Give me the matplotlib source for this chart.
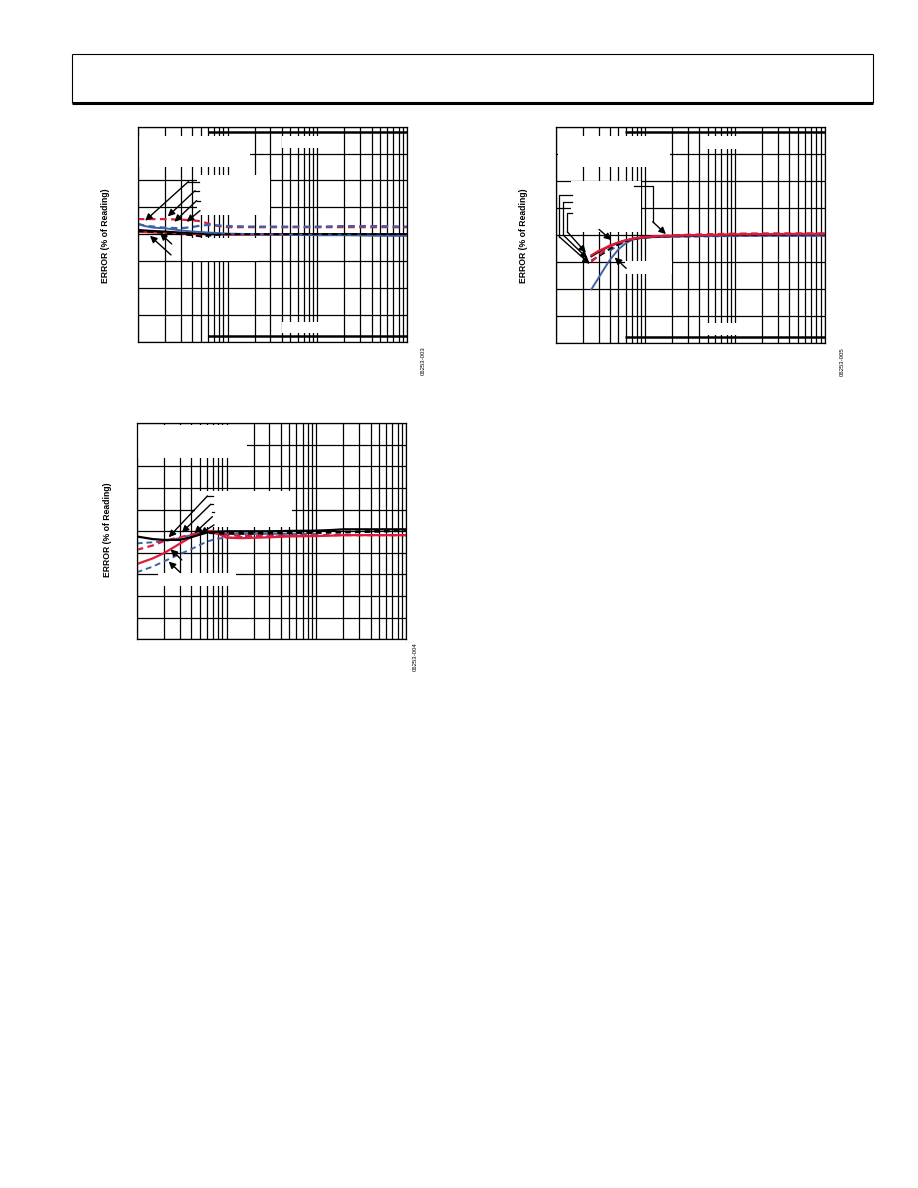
import numpy as np
import matplotlib
matplotlib.use("Agg")
import matplotlib.pyplot as plt
from matplotlib.patches import Rectangle
from matplotlib.lines import Line2D
from matplotlib.ticker import LogLocator, NullFormatter

plt.rcParams['font.family'] = ['Liberation Sans', 'DejaVu Sans']

RED = '#E01A3C'
BLUE = '#3D62A6'

# ---- plot 1 (top left) ----
p1_x = [1, 1.2, 1.5, 2, 3, 4, 5, 6, 8, 10, 20, 50, 100, 200, 500, 1000]
p1_red_dash = [0.28, 0.28, 0.28, 0.28, 0.27, 0.26, 0.24, 0.2, 0.15, 0.13, 0.13, 0.13, 0.13, 0.13, 0.13, 0.13]
p1_blue_dash = [0.19, 0.16, 0.14, 0.12, 0.11, 0.13, 0.16, 0.17, 0.16, 0.15, 0.14, 0.14, 0.14, 0.15, 0.15, 0.14]
p1_blue = [0.19, 0.15, 0.12, 0.11, 0.07, 0.05, 0.04, 0.03, 0.02, 0.01, 0.0, -0.01, -0.02, -0.02, -0.03, -0.03]
p1_black = [0.08, 0.07, 0.06, 0.05, 0.03, 0.02, 0.01, 0.0, 0.0, 0.0, 0.0, 0.0, 0.0, 0.0, 0.0, 0.0]
p1_red = [0.04, 0.04, 0.03, 0.03, 0.02, 0.01, 0.0, 0.0, 0.0, -0.01, -0.01, -0.01, -0.01, -0.01, -0.02, -0.02]
p1_black_dash = [0.06, 0.05, 0.04, 0.02, 0.0, -0.02, -0.04, -0.03, -0.01, 0.0, 0.0, 0.0, 0.0, 0.0, 0.0, 0.0]

# ---- plot 2 (top right) ----
p2_x = [2.5, 3, 3.5, 4, 5, 6, 7, 8, 10, 15, 20, 30, 50, 100, 200, 500, 1000]
p2_red = [-0.38, -0.30, -0.25, -0.20, -0.14, -0.10, -0.08, -0.06, -0.04, -0.025, -0.018, -0.01, -0.006, 0.006, 0.012, 0.016, 0.018]
p2_red_dash = [-0.50, -0.38, -0.29, -0.22, -0.15, -0.11, -0.08, -0.06, -0.04, -0.02, -0.012, 0.0, 0.01, 0.02, 0.025, 0.025, 0.025]
p2_blue = [-1.01, -0.80, -0.62, -0.47, -0.27, -0.16, -0.10, -0.07, -0.05, -0.04, -0.037, -0.03, -0.025, -0.02, -0.018, -0.018, -0.018]
p2_black = [-0.40, -0.32, -0.26, -0.21, -0.15, -0.11, -0.085, -0.065, -0.045, -0.03, -0.02, -0.012, -0.005, 0.0, 0.005, 0.008, 0.01]
p2_black_dash = [-0.48, -0.40, -0.33, -0.26, -0.18, -0.12, -0.09, -0.07, -0.05, -0.035, -0.025, -0.018, -0.012, -0.006, 0.0, 0.005, 0.008]
p2_bd_x = [4, 5, 6, 7, 8, 10, 15, 20, 30, 50, 100, 200, 500, 1000]
p2_blue_dash = [-0.30, -0.19, -0.13, -0.09, -0.07, -0.05, -0.04, -0.037, -0.035, -0.03, -0.025, -0.02, -0.02, -0.02]

# ---- plot 3 (bottom left) ----
p3_x = [1, 1.5, 2, 3, 4, 5, 6, 7, 8, 10, 15, 20, 30, 50, 100, 150, 200, 500, 1000]
p3_black = [-0.12, -0.18, -0.2, -0.2, -0.14, -0.08, -0.03, -0.015, -0.008, 0.0, 0.0, 0.0, 0.0, 0.008, 0.015, 0.03, 0.046, 0.046, 0.046]
p3_red_dash = [-0.43, -0.33, -0.23, -0.14, -0.08, -0.03, -0.01, -0.03, -0.06, -0.09, -0.11, -0.11, -0.10, -0.10, -0.09, -0.09, -0.09, -0.09, -0.09]
p3_red = [-0.76, -0.63, -0.51, -0.29, -0.14, -0.05, 0.0, 0.01, -0.05, -0.15, -0.16, -0.15, -0.14, -0.12, -0.11, -0.10, -0.09, -0.09, -0.09]
p3_bd_x = [1, 1.5, 2, 3, 4, 5, 6, 7, 8, 10, 15, 20, 30, 50, 100]
p3_blue_dash_lo = [-0.95, -0.82, -0.70, -0.53, -0.42, -0.32, -0.24, -0.20, -0.17, -0.15, -0.13, -0.12, -0.12, -0.11, -0.11]
p3_blue_dash_hi = [-0.28, -0.255, -0.23, -0.16, -0.09, -0.03, -0.01, -0.03, -0.05, -0.06, -0.06, -0.06, -0.06, -0.06, -0.06]
p3_kd_x = [5, 6, 8, 10, 20, 50, 100, 200, 500, 1000]
p3_black_dash = [-0.05, -0.03, -0.04, -0.05, -0.05, -0.04, -0.03, -0.02, 0.0, 0.02]

ids = ['06253-003', '06253-005', '06253-004']
ylabel = 'ERROR (% of Reading)'

fig = plt.figure(figsize=(9.18, 11.88), dpi=100)


def frame(rect, ylim, nrows):
    ax = fig.add_axes(rect)
    ax.set_xscale('log')
    ax.set_xlim(1, 1000)
    ax.set_ylim(*ylim)
    ax.xaxis.set_major_locator(LogLocator(base=10))
    ax.xaxis.set_minor_locator(LogLocator(base=10, subs=range(2, 10)))
    ax.xaxis.set_minor_formatter(NullFormatter())
    ax.set_yticks(np.linspace(ylim[0], ylim[1], nrows + 1))
    ax.grid(which='both', color='k', lw=0.9)
    ax.set_axisbelow(True)
    ax.tick_params(which='both', length=0, labelbottom=False, labelleft=False)
    for s in ax.spines.values():
        s.set_linewidth(0.9)
        s.set_zorder(6)
    return ax


def mask(ax, boxes):
    # white backgrounds of the (blank) label boxes cut the grid
    for x0, x1, y0, y1 in boxes:
        ax.add_patch(Rectangle((x0, y0), x1 - x0, y1 - y0, fc='white', ec='none', zorder=2))


def arrows(ax, pairs):
    for tip, tail in pairs:
        ax.annotate('', xy=tip, xytext=tail, zorder=5,
                    arrowprops=dict(arrowstyle='-|>', color='k', lw=1.0,
                                    mutation_scale=10, shrinkA=0, shrinkB=0))


def leaders(ax, paths):
    for path in paths:
        xs, ys = zip(*path)
        ax.plot(xs, ys, color='k', lw=0.9, zorder=5)


def limits(ax, x0, y):
    ax.plot([x0, 1000], [y, y], color='k', lw=1.8, zorder=3, solid_capstyle='butt')
    ax.plot([x0, 1000], [-y, -y], color='k', lw=1.8, zorder=3, solid_capstyle='butt')


# plot 1
ax1 = frame([0.150, 0.7124, 0.2937, 0.181], (-2, 2), 8)
mask(ax1, [(1.03, 17.8, 1.256, 1.833), (4.53, 29.6, 0.357, 1.10),
           (3.3, 22, -0.50, -0.07), (40, 194, 1.597, 1.826), (40, 194, -1.845, -1.628)])
limits(ax1, 6.1, 1.9)
ax1.plot(p1_x, p1_red, color=RED, lw=1.6, zorder=3)
ax1.plot(p1_x, p1_black, color='k', lw=1.4, zorder=3)
ax1.plot(p1_x, p1_blue, color=BLUE, lw=1.4, zorder=3)
ax1.plot(p1_x, p1_black_dash, color='k', lw=1.4, ls=(0, (3, 2)), zorder=3)
ax1.plot(p1_x, p1_red_dash, color=RED, lw=1.6, ls=(0, (3, 2)), zorder=3)
ax1.plot(p1_x, p1_blue_dash, color=BLUE, lw=1.6, ls=(0, (3, 2)), zorder=3)
leaders(ax1, [[(3.66, 0.977), (4.75, 0.977)], [(4.34, 0.809), (4.85, 0.809)],
              [(4.53, 0.624), (4.95, 0.624)]])
arrows(ax1, [((1.21, 0.25), (3.66, 0.977)), ((2.16, 0.33), (4.34, 0.809)),
             ((2.56, 0.23), (4.53, 0.624)), ((3.51, 0.23), (4.94, 0.438)),
             ((1.37, -0.03), (2.35, -0.387)), ((1.77, 0.016), (2.39, -0.182))])

# plot 2
ax2 = frame([0.6053, 0.7115, 0.2934, 0.1818], (-2, 2), 8)
mask(ax2, [(1.05, 18.75, 1.259, 1.833), (1.5, 8.96, 0.05, 1.0),
           (5.9, 20.0, -0.72, -0.49), (48, 180, 1.59, 1.82), (48, 180, -1.85, -1.63)])
limits(ax2, 5.85, 1.9)
ax2.plot(p2_x, p2_blue, color=BLUE, lw=1.4, zorder=3)
ax2.plot(p2_bd_x, p2_blue_dash, color=BLUE, lw=1.4, ls=(0, (3, 2)), zorder=3)
ax2.plot(p2_x, p2_black_dash, color='k', lw=1.4, ls=(0, (3, 2)), zorder=3)
ax2.plot(p2_x, p2_black, color='k', lw=1.4, zorder=3)
ax2.plot(p2_x, p2_red_dash, color=RED, lw=1.6, ls=(0, (3, 2)), zorder=3)
ax2.plot(p2_x, p2_red, color=RED, lw=1.6, zorder=3)
leaders(ax2, [[(1.503, 0.735), (1.098, 0.735), (1.098, -0.037)],
              [(1.503, 0.599), (1.216, 0.599), (1.216, -0.006)],
              [(1.503, 0.395), (1.346, 0.395), (1.346, 0.056)],
              [(7.55, 0.901), (12.05, 0.901), (12.05, 0.241)]])
arrows(ax2, [((2.40, -0.54), (1.098, -0.037)), ((2.26, -0.44), (1.216, -0.006)),
             ((2.17, -0.33), (1.346, 0.056)), ((4.17, -0.099), (3.04, 0.099)),
             ((4.54, -0.42), (6.11, -0.623)), ((16.9, 0.012), (12.05, 0.241))])

# plot 3
ax3 = frame([0.1489, 0.4619, 0.2937, 0.1818], (-2.5, 2.5), 10)
mask(ax3, [(1.04, 16.7, 1.69, 2.461), (4.5, 53, 0.108, 0.94),
           (1.73, 12.6, -1.265, -0.957)])
ax3.plot(p3_bd_x, p3_blue_dash_lo, color=BLUE, lw=1.4, ls=(0, (3, 2)), zorder=3)
ax3.plot(p3_bd_x, p3_blue_dash_hi, color=BLUE, lw=1.4, ls=(0, (3, 2)), zorder=3)
ax3.plot(p3_x, p3_red, color=RED, lw=1.6, zorder=3)
ax3.plot(p3_x, p3_red_dash, color=RED, lw=1.6, ls=(0, (3, 2)), zorder=3)
ax3.plot(p3_kd_x, p3_black_dash, color='k', lw=2.0, ls=(0, (2, 1.5)), zorder=3)
ax3.plot(p3_x, p3_black, color='k', lw=1.6, zorder=3)
leaders(ax3, [[(6.13, 0.818), (7.0, 0.818)], [(6.67, 0.625), (7.1, 0.625)],
              [(6.96, 0.45), (7.2, 0.45)]])
arrows(ax3, [((2.27, -0.139), (6.13, 0.818)), ((3.18, -0.031), (6.67, 0.625)),
             ((4.38, -0.046), (6.96, 0.339)), ((5.09, -0.062), (7.26, 0.147)),
             ((2.38, -0.417), (3.18, -0.664)), ((2.27, -0.702), (3.07, -0.957))])

# y labels and figure ids
for (lx, ly), (ix, iy), txt in zip([(106, 236), (524, 236), (108, 530)],
                                    [(423, 361), (842, 362), (415, 657)], ids):
    fig.text(lx / 918, 1 - ly / 1188, ylabel, rotation=90, fontsize=6.2,
             fontweight='bold', ha='center', va='center')
    fig.text(ix / 918, 1 - iy / 1188, txt, rotation=90, fontsize=4.3,
             ha='center', va='center')

# header box
W, H = 918, 1188


def fline(x0, y0, x1, y1, lw):
    fig.add_artist(Line2D([x0 / W, x1 / W], [1 - y0 / H, 1 - y1 / H], color='k', lw=lw,
                          solid_capstyle='butt'))


fline(72, 54, 873, 54, 0.8)
fline(72, 54, 72, 103, 0.8)
fline(873, 54, 873, 103, 0.8)
fline(71.6, 103, 873.4, 103, 2.2)

fig.savefig('out.png', dpi=100)
